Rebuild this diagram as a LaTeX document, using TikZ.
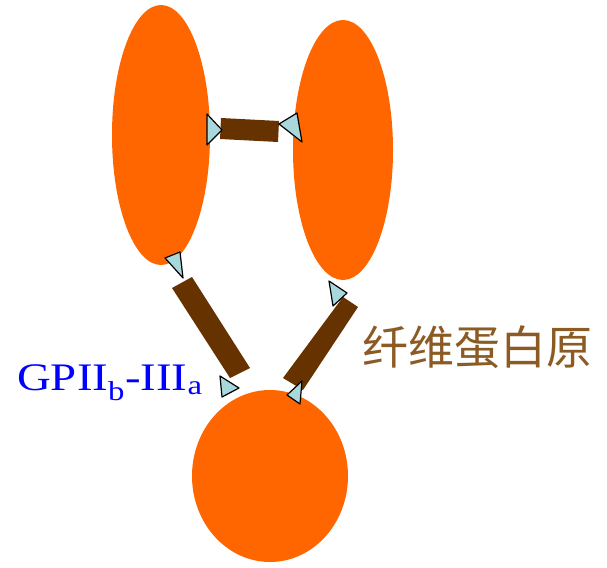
\documentclass[tikz,border=0pt]{standalone}
\usepackage{fontspec}
\usepackage{graphicx}
\setmainfont{Liberation Serif}
\newfontfamily\cjk{Noto Sans CJK SC}
\usetikzlibrary{shapes.geometric}
\definecolor{cell}{HTML}{FF6600}
\definecolor{bridge}{HTML}{663300}
\definecolor{receptor}{HTML}{A8D8DC}
\definecolor{fibtext}{HTML}{8C5A23}
\tikzset{
  cellbody/.style={ellipse, fill=cell, inner sep=0pt},
  bar/.style={fill=bridge},
  tip/.style={fill=receptor, draw=black, line width=1.2pt, line join=round},
}
\begin{document}
\begin{tikzpicture}[x=1pt,y=-1pt]
\useasboundingbox (0,0) rectangle (607,567);
% platelets
\node[cellbody, minimum width=98, minimum height=260] (pl) at (161,135) {};
\node[cellbody, minimum width=100, minimum height=260] (pr) at (343,150) {};
\node[cellbody, minimum width=156, minimum height=172] (pb) at (270,476) {};
% fibrinogen bridges
\fill[bar] (221,118) -- (279,121) -- (278,142) -- (220,139) -- cycle;
\fill[bar] (172,288) -- (192,277) -- (250,368) -- (230,378) -- cycle;
\fill[bar] (343,297) -- (358,307) -- (303,390) -- (283,378) -- cycle;
% receptor tips
\draw[tip] (207,114) -- (222,130) -- (207,145) -- cycle;
\draw[tip] (279,124) -- (297,113) -- (302,142) -- cycle;
\draw[tip] (165,258) -- (180,252) -- (183,278) -- cycle;
\draw[tip] (220,376) -- (239,388) -- (222,397) -- cycle;
\draw[tip] (329,281) -- (347,293) -- (333,306) -- cycle;
\draw[tip] (302,381) -- (300,404) -- (287,395) -- cycle;
% labels
\node[anchor=base west, text=blue, font=\fontsize{39}{44}\selectfont, inner sep=0pt] (gp) at (17,390)
  {\scalebox{1.2}[1]{GPII\textsubscript{b}-III\textsubscript{a}}};
\node[anchor=west, text=fibtext, font=\cjk\fontsize{46}{50}\selectfont, inner sep=0pt] (fib) at (362,347) {纤维蛋白原};
\end{tikzpicture}
\end{document}
